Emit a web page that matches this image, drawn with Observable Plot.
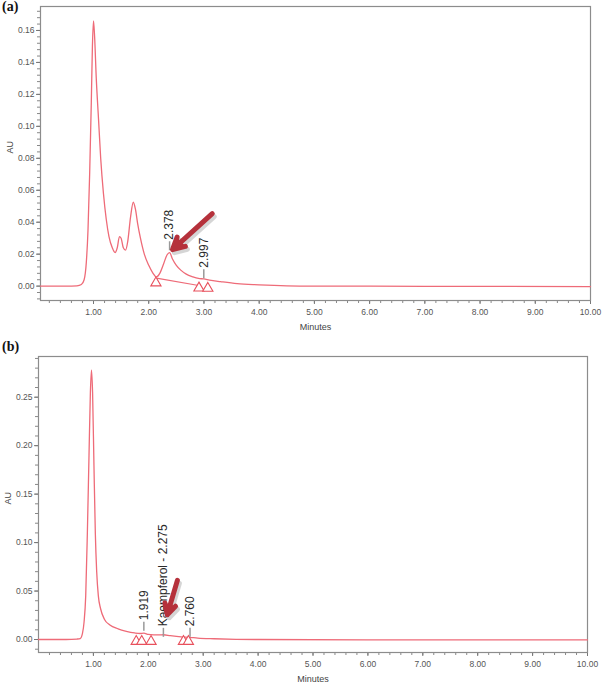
<!DOCTYPE html>
<html><head><meta charset="utf-8">
<script src="https://cdn.jsdelivr.net/npm/d3@7"></script>
<script src="https://cdn.jsdelivr.net/npm/@observablehq/plot@0.6"></script>
<style>
body{margin:0;background:#fff;}
#wrap{position:relative;width:603px;height:690px;background:#fff;overflow:hidden}
.panel{position:absolute;left:0}
.tag{position:absolute;font:bold 14px "Liberation Serif","Times New Roman",serif;color:#111}
</style></head><body>
<div id="wrap">
<div class="panel" id="pa" style="top:0"></div>
<div class="panel" id="pb" style="top:340px"></div>
<div class="tag" style="left:2px;top:-1px">(a)</div>
<div class="tag" style="left:2px;top:339px">(b)</div>
</div>
<script>
// ---------- Panel (a) chromatogram ----------
const timeA = [0.04,0.50,0.70,0.78,0.83,0.87,0.90,0.93,0.96,0.98,1.00,1.02,1.05,1.09,1.13,1.18,1.23,1.28,1.34,1.39,1.43,1.47,1.50,1.54,1.58,1.62,1.67,1.72,1.76,1.80,1.85,1.92,2.00,2.07,2.14,2.20,2.27,2.33,2.378,2.43,2.50,2.58,2.68,2.80,2.90,2.997,3.10,3.30,3.60,4.00,4.50,5.00,7.00,10.00];
const auA   = [0.0000,0.0000,0.0002,0.0010,0.0040,0.0150,0.0350,0.0700,0.1150,0.1500,0.1660,0.1560,0.1300,0.1050,0.0800,0.0580,0.0420,0.0310,0.0240,0.0210,0.0240,0.0310,0.0300,0.0240,0.0225,0.0280,0.0430,0.0525,0.0480,0.0390,0.0300,0.0200,0.0130,0.0085,0.0058,0.0080,0.0140,0.0195,0.0210,0.0170,0.0130,0.0100,0.0075,0.0058,0.0048,0.0045,0.0038,0.0028,0.0015,0.0008,0.0002,0.0000,-0.0001,-0.0003];
const triTimesA = [2.13,2.91,3.07];
const triAuA    = [0.0020,-0.0012,-0.0014];
const peakTimesA  = [2.378,2.997];
const peakAuA     = [0.0215,0.0040];
const peakLabelsA = ["2.378","2.997"];
const baseLineA = {x1:2.14,y1:0.0050,x2:2.93,y2:0.0002};
const arrowA = {x1:3.15,y1:0.0454,x2:2.43,y2:0.0228};
const yTicksA = [0,0.02,0.04,0.06,0.08,0.10,0.12,0.14,0.16];
const yMinorA = d3.range(-0.008,0.1751,0.004);

// ---------- Panel (b) chromatogram ----------
const timeB = [0.00,0.50,0.70,0.76,0.80,0.83,0.86,0.89,0.92,0.945,0.965,0.985,1.01,1.035,1.06,1.09,1.13,1.20,1.30,1.45,1.60,1.75,1.85,1.919,2.00,2.10,2.20,2.275,2.40,2.60,2.760,2.90,3.20,3.60,4.00,6.00,10.00];
const auB   = [0.000,0.000,0.0005,0.001,0.006,0.018,0.045,0.110,0.190,0.255,0.278,0.255,0.180,0.110,0.070,0.045,0.032,0.021,0.015,0.011,0.0085,0.0068,0.0062,0.0065,0.0052,0.0048,0.0047,0.0049,0.0040,0.0028,0.0022,0.0015,0.0008,0.0002,0.0000,-0.0003,-0.0004];
const triTimesB = [1.78,1.88,2.05,2.64,2.73];
const triAuB    = [-0.002,-0.002,-0.002,-0.002,-0.002];
const peakTimesB  = [1.919,2.275,2.760];
const peakAuB     = [0.0075,0.0012,0.0012];
const peakLabelsB = ["1.919","Kaempferol - 2.275","2.760"];
const arrowB = {x1:2.53,y1:0.061,x2:2.345,y2:0.0255};
const yTicksB = [0,0.05,0.10,0.15,0.20,0.25];
const yMinorB = d3.range(-0.01,0.2921,0.01);

// ---------- shared axis ticks ----------
const xTicks = [1,2,3,4,5,6,7,8,9,10];
const xMinor = d3.range(0.2,10.001,0.2);

const curveColor = "#ee6b78";
const arrowColor = "#b5313b";

function chart(o){
  const series = o.time.map((t,i)=>({t, v:o.au[i]}));
  const tris = o.triT.map((t,i)=>({t, v:o.triV[i]}));
  const peaks = o.peakT.map((t,i)=>({t, v:o.peakV[i], label:o.peakL[i]}));
  const marks = [
    Plot.axisX({ticks:xMinor, tickSize:3, tickFormat:()=>"", stroke:"#888", label:null}),
    Plot.axisX({ticks:xTicks, tickSize:4, tickPadding:4, tickFormat:d=>d.toFixed(2), stroke:"#777", fill:"#555", fontSize:8.5, label:null}),
    Plot.axisY({ticks:o.yMinor, tickSize:3, tickFormat:()=>"", stroke:"#888", label:null}),
    Plot.axisY({ticks:o.yTicks, tickSize:4, tickPadding:2, tickFormat:d=>d.toFixed(2), stroke:"#777", fill:"#555", fontSize:8.5, label:null}),
    Plot.frame({stroke:"#8c8c8c", strokeWidth:1.2}),
    Plot.text(["AU"], {frameAnchor:"left", dx:-30, rotate:-90, fontSize:9, fill:"#444"}),
    Plot.text(["Minutes"], {frameAnchor:"bottom", dy:29, fontSize:9, fill:"#444"}),
  ];
  if (o.base) marks.push(Plot.link([o.base], {x1:"x1",y1:"y1",x2:"x2",y2:"y2", stroke:curveColor, strokeWidth:1.1}));
  marks.push(
    Plot.line(series, {x:"t", y:"v", stroke:curveColor, strokeWidth:1.3, curve:"monotone-x"}),
    Plot.dot(tris, {x:"t", y:"v", symbol:"triangle", r:3.8, stroke:"#e8505c", fill:"white", strokeWidth:1.1}),
    Plot.ruleX(peaks, {x:"t", y1:"v", y2:"v", insetTop:-1, insetBottom:10, stroke:"#999", strokeWidth:1.5}),
    Plot.text(peaks, {x:"t", y:"v", text:"label", rotate:-90, textAnchor:"start", dy:-12, fontSize:12, fill:"#2a2a2a", style:"letter-spacing:1px"}),
    Plot.arrow([o.arrow], {x1:"x1",y1:"y1",x2:"x2",y2:"y2", stroke:"#999", fill:"#999", opacity:0.4, strokeWidth:5, headLength:4, headAngle:55, dx:2, dy:3}),
    Plot.arrow([o.arrow], {x1:"x1",y1:"y1",x2:"x2",y2:"y2", stroke:arrowColor, fill:arrowColor, strokeWidth:5, headLength:4, headAngle:55})
  );
  return Plot.plot({
    width:603, height:o.height,
    marginLeft:o.ml, marginRight:o.mr, marginTop:o.mt, marginBottom:o.mb,
    style:{fontFamily:"'Liberation Sans', Arial, sans-serif", fontSize:"8.5px", color:"#555", background:"white"},
    x:{domain:o.xd},
    y:{domain:o.yd},
    marks
  });
}

document.getElementById("pa").append(chart({
  time:timeA, au:auA, triT:triTimesA, triV:triAuA, peakT:peakTimesA, peakV:peakAuA, peakL:peakLabelsA,
  base:baseLineA, arrow:arrowA, yTicks:yTicksA, yMinor:yMinorA,
  height:345, ml:40, mr:13, mt:6, mb:45, xd:[0.04,10], yd:[-0.009,0.175]
}));
document.getElementById("pb").append(chart({
  time:timeB, au:auB, triT:triTimesB, triV:triAuB, peakT:peakTimesB, peakV:peakAuB, peakL:peakLabelsB,
  base:null, arrow:arrowB, yTicks:yTicksB, yMinor:yMinorB,
  height:350, ml:38, mr:16, mt:16, mb:38, xd:[0,10], yd:[-0.0134,0.292]
}));
</script>
</body></html>
